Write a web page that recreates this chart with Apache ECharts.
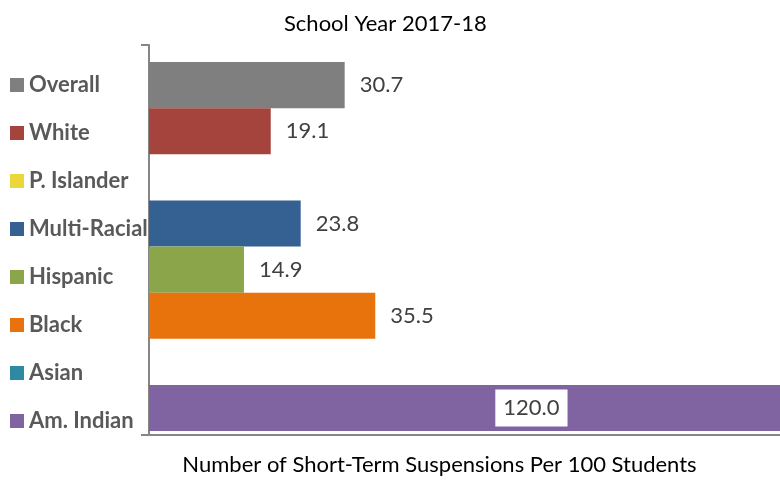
<!DOCTYPE html>
<html>
<head>
<meta charset="utf-8">
<script src="https://cdn.jsdelivr.net/npm/echarts@6/dist/echarts.min.js"></script>
<style>
  html, body { margin: 0; padding: 0; background: #fff; }
  #main { width: 780px; height: 481px; }
</style>
</head>
<body>
<div id="main"></div>
<script>
// data
var categories = ['Overall', 'White', 'P. Islander', 'Multi-Racial', 'Hispanic', 'Black', 'Asian', 'Am. Indian'];
var rates = [30.7, 19.1, null, 23.8, 14.9, 35.5, null, 120.0];
var palette = ['#7f7f7f', '#a5433d', '#ebd73a', '#356092', '#8aa54a', '#e8720c', '#2d8aa2', '#8064a1'];

var FONT = 'Lato';
var myChart = echarts.init(document.getElementById('main'));

// rich styles for the coloured squares in front of each key label
var rich = { t: { fontFamily: FONT, fontWeight: 'bold', fontSize: 22, color: '#595959', padding: [0, 0, 0, 5] } };
palette.forEach(function (c, i) {
    rich['s' + i] = { width: 14, height: 14, backgroundColor: c };
});

var barData = rates.map(function (v, i) {
    var item = { value: v, itemStyle: { color: palette[i] } };
    if (v != null && v > 99) {
        // off-scale bar: value shown inside on a white box
        item.label = {
            position: 'inside', backgroundColor: '#fff', padding: [8, 8, 7, 8]
        };
    }
    return item;
});

myChart.setOption({
    animation: false,
    title: {
        text: 'School Year 2017-18',
        left: 279, top: 8,
        textStyle: { fontFamily: FONT, fontWeight: 'normal', fontSize: 22, color: '#000' }
    },
    grid: [
        { left: 149, right: 0, top: 45, bottom: 33 },      // axis frame
        { left: 149, right: 0, top: 62, height: 369 },     // bars
        { left: 149, right: 0, top: 61, height: 384 }      // key labels (spaced like the legend)
    ],
    xAxis: [
        {
            gridIndex: 0, type: 'value', min: 0, max: 1,
            axisLine: { show: true, lineStyle: { color: '#868686', width: 2 } },
            axisTick: { show: false }, axisLabel: { show: false }, splitLine: { show: false },
            name: 'Number of Short-Term Suspensions Per 100 Students',
            nameLocation: 'middle', nameGap: 19,
            nameTextStyle: { fontFamily: FONT, fontSize: 22, color: '#000', padding: [0, 50, 0, 0] }
        },
        { gridIndex: 1, type: 'value', min: 0, max: 99, show: false },
        { gridIndex: 2, type: 'value', show: false }
    ],
    yAxis: [
        {
            gridIndex: 0, type: 'value', min: 0, max: 1, interval: 1,
            axisLine: { show: true, lineStyle: { color: '#868686', width: 2 } },
            axisTick: { show: true, length: 8, lineStyle: { color: '#868686', width: 2 } },
            axisLabel: { show: false }, splitLine: { show: false }
        },
        {
            gridIndex: 1, type: 'category', data: categories, inverse: true, show: false
        },
        {
            gridIndex: 2, type: 'category', data: categories, inverse: true,
            axisLine: { show: false }, axisTick: { show: false },
            axisLabel: {
                align: 'left', margin: 139,
                formatter: function (v, i) { return '{s' + i + '|}{t|' + v + '}'; },
                rich: rich
            }
        }
    ],
    series: [{
        type: 'bar',
        xAxisIndex: 1, yAxisIndex: 1,
        data: barData,
        barCategoryGap: 0,
        clip: false,
        label: {
            show: true, position: 'right', distance: 15,
            fontFamily: FONT, fontSize: 22, color: '#404040',
            formatter: function (p) { return p.value == null ? '' : p.value.toFixed(1); }
        }
    }]
});
</script>
</body>
</html>
